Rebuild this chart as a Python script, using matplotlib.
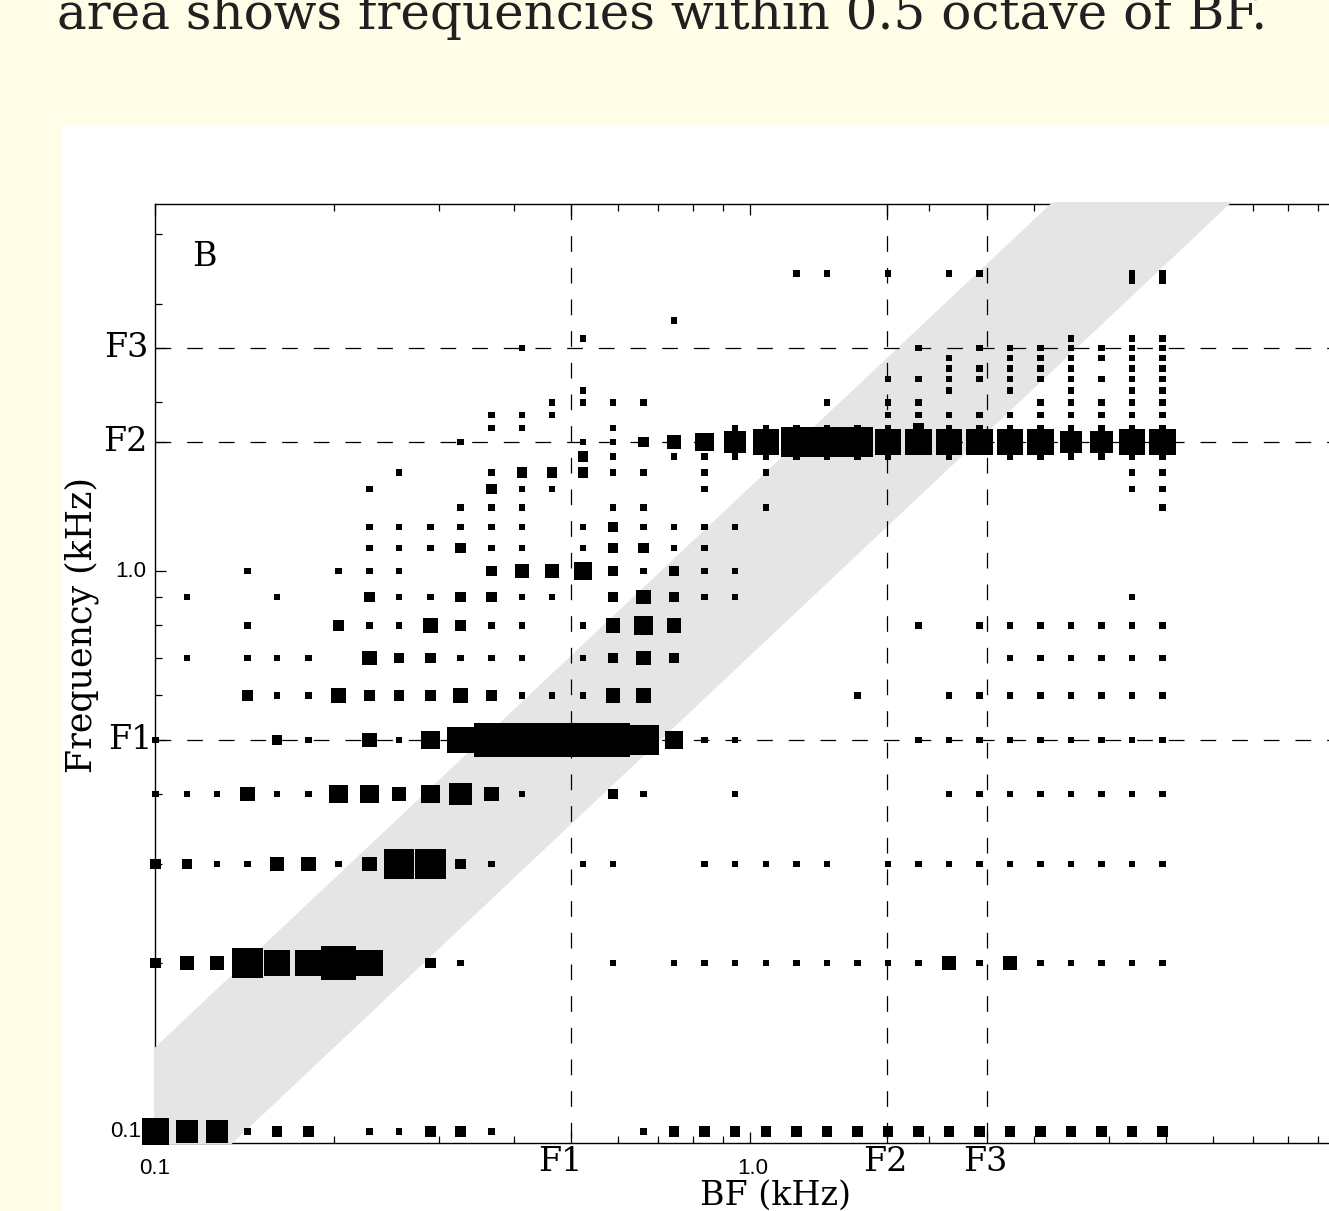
import matplotlib
matplotlib.use("Agg")
import matplotlib.pyplot as plt
from matplotlib.patches import Rectangle
from matplotlib.ticker import FixedLocator, NullFormatter
import numpy as np

plt.rcParams['lines.scale_dashes'] = False

# formants and fundamental (kHz)
F1, F2, F3 = 0.5, 1.7, 2.5
f0 = 0.1

# best frequencies of the fibres (kHz), one column each
bf_khz = [0.100, 0.113, 0.127, 0.143, 0.160, 0.181, 0.203, 0.229, 0.257, 0.290,
          0.326, 0.367, 0.413, 0.464, 0.523, 0.588, 0.662, 0.745, 0.838, 0.943,
          1.062, 1.195, 1.345, 1.513, 1.703, 1.917, 2.157, 2.427, 2.732, 3.074,
          3.459, 3.893, 4.381, 4.931]

# response magnitude (0 = none, 1..8) per harmonic, one value per BF column
h01 = [6,5,5,1,2,2,0,1,1,2,2,1,0,0,0,0,1,2,2,2,2,2,2,2,2,2,2,2,2,2,2,2,2,2]
h02 = [2,3,3,7,6,6,8,6,0,2,1,0,0,0,0,1,0,1,1,1,1,1,1,1,1,1,3,1,3,1,1,1,1,1]
h03 = [2,2,1,1,3,3,1,3,7,7,2,1,0,0,1,1,0,0,1,1,1,1,1,0,1,1,1,1,1,1,1,1,1,1]
h04 = [1,1,1,3,1,1,4,4,3,4,5,3,1,0,0,2,1,0,0,1,0,0,0,0,0,0,1,1,1,1,1,1,1,1]
h05 = [1,0,0,0,2,1,0,3,1,4,6,8,8,8,8,8,7,4,1,1,0,0,0,0,0,1,1,1,1,1,1,1,1,1]
h06 = [0,0,0,2,1,1,3,2,2,2,3,2,1,1,1,3,3,0,0,0,0,0,0,1,0,0,1,1,1,1,1,1,1,1]
h07 = [0,1,0,1,1,1,0,3,2,2,1,1,1,0,1,2,3,2,0,0,0,0,0,0,0,0,0,0,1,1,1,1,1,1]
h08 = [0,0,0,1,0,0,2,1,1,3,2,1,1,0,1,3,4,3,0,0,0,0,0,0,0,1,0,1,1,1,1,1,1,1]
h09 = [0,1,0,0,1,0,0,2,1,1,2,2,1,1,0,2,3,2,1,1,0,0,0,0,0,0,0,0,0,0,0,0,1,0]
h10 = [0,0,0,1,0,0,1,1,1,0,0,2,3,3,4,2,1,2,1,1,0,0,0,0,0,0,0,0,0,0,0,0,0,0]
h11 = [0,0,0,0,0,0,0,1,1,1,2,1,1,0,1,2,2,1,1,0,0,0,0,0,0,0,0,0,0,0,0,0,0,0]
h12 = [0,0,0,0,0,0,0,1,1,1,1,1,1,0,1,2,1,1,1,1,0,0,0,0,0,0,0,0,0,0,0,0,0,0]
h13 = [0,0,0,0,0,0,0,0,0,0,1,1,1,0,0,1,1,0,0,0,1,0,0,0,0,0,0,0,0,0,0,0,0,1]
h14 = [0,0,0,0,0,0,0,1,0,0,0,2,1,1,0,0,0,0,1,0,0,0,0,0,0,0,0,0,0,0,0,0,1,1]
h15 = [0,0,0,0,0,0,0,0,1,0,0,1,2,2,2,1,1,0,1,0,1,0,0,0,0,0,0,0,0,0,0,0,1,1]
h16 = [0,0,0,0,0,0,0,0,0,0,0,0,0,0,2,1,0,1,1,1,1,1,1,1,1,0,1,0,1,1,1,1,1,1]
h17 = [0,0,0,0,0,0,0,0,0,0,1,0,0,0,1,1,2,3,4,5,6,7,7,7,6,6,6,6,6,6,5,5,6,6]
h18 = [0,0,0,0,0,0,0,0,0,0,0,1,1,0,0,1,0,0,0,1,1,1,1,1,1,2,1,1,1,1,1,1,1,1]
h19 = [0,0,0,0,0,0,0,0,0,0,0,1,1,1,0,0,0,0,0,0,0,0,0,0,1,1,1,1,1,1,1,1,1,1]
h20 = [0,0,0,0,0,0,0,0,0,0,0,0,0,1,1,1,1,0,0,0,0,0,1,0,1,1,0,0,0,1,1,1,1,1]
h21 = [0,0,0,0,0,0,0,0,0,0,0,0,0,0,1,0,0,0,0,0,0,0,0,0,0,0,1,0,1,0,1,0,1,1]
h22 = [0,0,0,0,0,0,0,0,0,0,0,0,0,0,0,0,0,0,0,0,0,0,0,0,1,1,1,1,1,1,1,1,1,1]
h23 = [0,0,0,0,0,0,0,0,0,0,0,0,0,0,0,0,0,0,0,0,0,0,0,0,0,0,1,1,1,1,1,0,1,1]
h24 = [0,0,0,0,0,0,0,0,0,0,0,0,0,0,0,0,0,0,0,0,0,0,0,0,0,0,1,0,1,1,1,1,1,1]
h25 = [0,0,0,0,0,0,0,0,0,0,0,0,1,0,0,0,0,0,0,0,0,0,0,0,0,1,0,1,1,1,1,1,1,1]
h26 = [0,0,0,0,0,0,0,0,0,0,0,0,0,0,1,0,0,0,0,0,0,0,0,0,0,0,0,0,0,0,1,0,1,1]
h28 = [0,0,0,0,0,0,0,0,0,0,0,0,0,0,0,0,0,1,0,0,0,0,0,0,0,0,0,0,0,0,0,0,0,0]
h33 = [0,0,0,0,0,0,0,0,0,0,0,0,0,0,0,0,0,0,0,0,0,0,0,0,0,0,0,0,0,0,0,0,1,1]
h34 = [0,0,0,0,0,0,0,0,0,0,0,0,0,0,0,0,0,0,0,0,0,1,1,0,1,0,1,1,0,0,0,0,1,1]

rows = [(1, h01), (2, h02), (3, h03), (4, h04), (5, h05), (6, h06), (7, h07),
        (8, h08), (9, h09), (10, h10), (11, h11), (12, h12), (13, h13),
        (14, h14), (15, h15), (16, h16), (17, h17), (18, h18), (19, h19),
        (20, h20), (21, h21), (22, h22), (23, h23), (24, h24), (25, h25),
        (26, h26), (28, h28), (33, h33), (34, h34)]

W, H = 1329, 1211
DPI = 100
serif = 'DejaVu Serif'
sans = 'Liberation Sans'

fig = plt.figure(figsize=(W / DPI, H / DPI), dpi=DPI, facecolor='#fffce8')
fig.add_artist(Rectangle((62 / W, 0), 1, (H - 125) / H, transform=fig.transFigure,
                         facecolor='white', edgecolor='none', zorder=-10))
fig.text(57 / W, 1 - 29 / H, 'area shows frequencies within 0.5 octave of BF.',
         fontsize=36, family=serif, color='#231f20', va='baseline', ha='left')

left, right, top, bottom = 155.3, 1345.3, 204.0, 1142.7
ax = fig.add_axes([left / W, 1 - bottom / H, (right - left) / W, (bottom - top) / H])
ax.set_xscale('log')
ax.set_yscale('log')
ax.set_xlim(0.1, 10)
ax.set_ylim(0.0955, 4.52)

# shaded band: within 0.5 octave of BF
xb = np.logspace(-1.5, 1.5, 300)
band = ax.fill_between(xb, xb / np.sqrt(2), xb * np.sqrt(2), color='#e5e5e5',
                       lw=0, zorder=2.6)
band.set_clip_path(Rectangle((-0.0012, -0.0016), 1.0024, 1.0032, transform=ax.transAxes))

# formant reference lines
for f in (F1, F2, F3):
    ax.plot([f, f], [1, 0], transform=ax.get_xaxis_transform(), color='black',
            lw=0.9, dashes=(11.3, 11.5), zorder=2.8)
    ax.plot([0, 1], [f, f], transform=ax.get_yaxis_transform(), color='black',
            lw=0.9, dashes=(11.3, 11.5), zorder=2.8)

# response squares
xs, ys, ss = [], [], []
for n, levels in rows:
    for k, lev in enumerate(levels):
        if lev > 0:
            xs.append(bf_khz[k])
            ys.append(n * f0)
            side_px = 2.5 + 4.0 * lev
            ss.append((side_px * 72 / DPI) ** 2)
ax.scatter(xs, ys, s=ss, marker='s', c='black', linewidths=0, zorder=3, clip_on=False)

# ticks
ax.xaxis.set_major_locator(FixedLocator([0.1, F1, 1.0, F2, F3]))
ax.xaxis.set_minor_locator(FixedLocator([0.2, 0.3, 0.4, 0.6, 0.7, 0.8, 0.9,
                                         2, 3, 4, 5, 6, 7, 8, 9]))
ax.yaxis.set_major_locator(FixedLocator([0.1, F1, 1.0, F2, F3]))
ax.yaxis.set_minor_locator(FixedLocator([0.2, 0.3, 0.4, 0.6, 0.7, 0.8, 0.9, 2, 3, 4]))
ax.xaxis.set_major_formatter(NullFormatter())
ax.xaxis.set_minor_formatter(NullFormatter())
ax.yaxis.set_major_formatter(NullFormatter())
ax.yaxis.set_minor_formatter(NullFormatter())
ax.tick_params(which='both', direction='in', top=True, right=True, width=0.9, color='black')
ax.tick_params(which='major', length=8)
ax.tick_params(which='minor', length=5)
for sp in ax.spines.values():
    sp.set_linewidth(1.0)

# tick labels
xl = [(0.1, '0.1', sans, 16, -1), (1.0, '1.0', sans, 16, 2),
      (F1, 'F1', serif, 24, -11), (F2, 'F2', serif, 24, -2), (F3, 'F3', serif, 24, -2)]
for xv, txt, fam, fs, dx in xl:
    ax.annotate(txt, xy=(xv, 0), xycoords=('data', 'axes fraction'),
                xytext=(dx, -15 if fam == sans else -3), textcoords='offset pixels',
                ha='center', va='top', family=fam, fontsize=fs)
yl = [(0.1, '0.1', sans, 16, -14), (1.0, '1.0', sans, 16, -9),
      (F1, 'F1', serif, 24, -3), (F2, 'F2', serif, 24, -8), (F3, 'F3', serif, 24, -7)]
for yv, txt, fam, fs, dx in yl:
    ax.annotate(txt, xy=(0, yv), xycoords=('axes fraction', 'data'),
                xytext=(dx, 0), textcoords='offset pixels',
                ha='right', va='center', family=fam, fontsize=fs)

fig.text(776 / W, 1 - 1180 / H, 'BF (kHz)', family=serif, fontsize=24,
         ha='center', va='top')
fig.text(82 / W, 1 - 625 / H, 'Frequency (kHz)', family=serif, fontsize=25,
         ha='center', va='center', rotation=90)
ax.text(192 / W, 1 - 266 / H, 'B', transform=fig.transFigure, family=serif,
        fontsize=24, ha='left', va='baseline')

fig.savefig('out.png', dpi=DPI, facecolor=fig.get_facecolor())
